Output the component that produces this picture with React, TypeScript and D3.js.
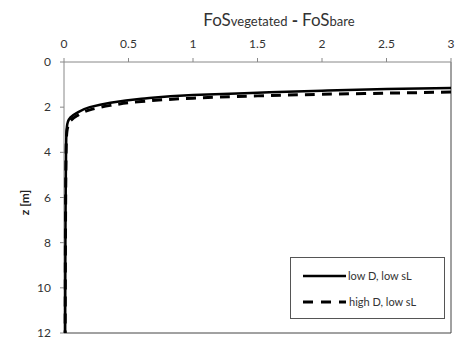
import React from "react";
import * as d3 from "d3";

// Difference in factor of safety (vegetated minus bare) against depth z
const zLowD = [1.15, 1.2, 1.27, 1.36, 1.46, 1.63, 1.8, 2.0, 2.25, 2.45, 2.65, 2.9, 3.3, 4, 6, 8, 10, 12];
const fosLowD = [3.0, 2.5, 2.0, 1.5, 1.0, 0.6, 0.36, 0.2, 0.1, 0.05, 0.03, 0.022, 0.018, 0.016, 0.013, 0.011, 0.01, 0.009];

const zHighD = [1.33, 1.38, 1.43, 1.5, 1.6, 1.75, 1.92, 2.12, 2.38, 2.6, 2.85, 3.1, 3.5, 4, 6, 8, 10, 12];
const fosHighD = [3.0, 2.5, 2.0, 1.5, 1.0, 0.6, 0.36, 0.2, 0.1, 0.05, 0.03, 0.022, 0.018, 0.016, 0.013, 0.011, 0.01, 0.009];

const xTicks = [0, 0.5, 1, 1.5, 2, 2.5, 3];
const zTicks = [0, 2, 4, 6, 8, 10, 12];
const seriesNames = ["low D, low sL", "high D, low sL"];

const W = 459;
const H = 343;
const FONT = "Lato, 'Open Sans', sans-serif";

export default function App() {
  const x = d3.scaleLinear().domain([0, 3]).range([64, 451]);
  const y = d3.scaleLinear().domain([0, 12]).range([62, 333]);

  const line = d3
    .line<[number, number]>()
    .x((d) => x(d[0]))
    .y((d) => y(d[1]))
    .curve(d3.curveMonotoneY);

  const lowPts = fosLowD.map((f, i) => [f, zLowD[i]] as [number, number]);
  const highPts = fosHighD.map((f, i) => [f, zHighD[i]] as [number, number]);

  const axisColor = "#888";
  const textColor = "#333";

  return (
    <svg
      width={W}
      height={H}
      style={{ position: "absolute", left: 0, top: 0, background: "#fff" }}
      fontFamily={FONT}
    >
      {/* title */}
      <text x={279} y={26} textAnchor="middle" fill={textColor} fontSize={17}>
        <tspan>FoS</tspan>
        <tspan fontSize={13}>vegetated</tspan>
        <tspan fontWeight="bold"> - </tspan>
        <tspan>FoS</tspan>
        <tspan fontSize={13}>bare</tspan>
      </text>

      {/* plot frame */}
      <line x1={x(3)} x2={x(3)} y1={y(0)} y2={y(12)} stroke="#444" strokeWidth={1} />
      <line x1={x(0)} x2={x(3)} y1={y(12)} y2={y(12)} stroke="#444" strokeWidth={1} />

      {/* top axis */}
      <line x1={x(0)} x2={x(3)} y1={y(0)} y2={y(0)} stroke={axisColor} />
      {xTicks.map((t) => (
        <g key={"x" + t}>
          <line x1={x(t)} x2={x(t)} y1={y(0) - 4} y2={y(0)} stroke={axisColor} />
          <text x={x(t)} y={48} textAnchor="middle" fontSize={12} fill={textColor}>
            {d3.format("")(t)}
          </text>
        </g>
      ))}

      {/* left axis */}
      <line x1={x(0)} x2={x(0)} y1={y(0)} y2={y(12)} stroke={axisColor} />
      {zTicks.map((t) => (
        <g key={"z" + t}>
          <line x1={x(0) - 4} x2={x(0)} y1={y(t)} y2={y(t)} stroke={axisColor} />
          <text x={51} y={y(t) + 4} textAnchor="end" fontSize={12} fill={textColor}>
            {t}
          </text>
        </g>
      ))}
      <text
        transform={`translate(29,${y(6) + 5}) rotate(-90)`}
        textAnchor="middle"
        fontSize={12}
        fontWeight="bold"
        fill="#222"
      >
        z [m]
      </text>

      {/* curves */}
      <path d={line(highPts) ?? ""} fill="none" stroke="#000" strokeWidth={3} strokeDasharray="10,7" />
      <path d={line(lowPts) ?? ""} fill="none" stroke="#000" strokeWidth={2.5} />

      {/* legend */}
      <rect x={290.5} y={257.5} width={154} height={61} fill="#fff" stroke="#555" />
      <line x1={303} x2={346} y1={276} y2={276} stroke="#000" strokeWidth={2.5} />
      <text x={348} y={280} fontSize={11} fill={textColor}>{seriesNames[0]}</text>
      <line x1={303} x2={346} y1={302} y2={302} stroke="#000" strokeWidth={3} strokeDasharray="10,8" />
      <text x={349} y={306} fontSize={11} fill={textColor}>{seriesNames[1]}</text>
    </svg>
  );
}
